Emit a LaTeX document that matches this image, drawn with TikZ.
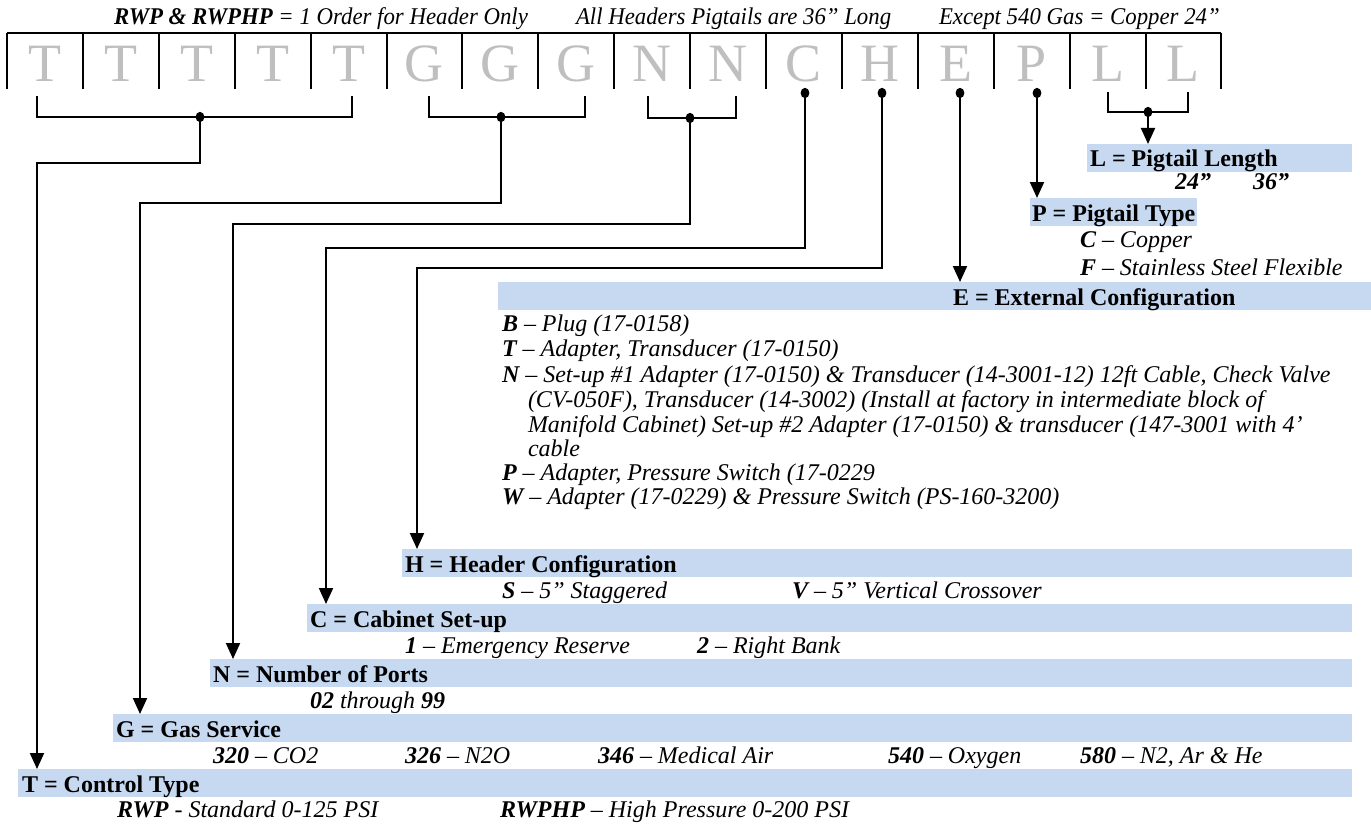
\documentclass[tikz,border=0pt]{standalone}
\usepackage{fontspec}
\setmainfont{Liberation Serif}
\usetikzlibrary{arrows.meta}
\definecolor{barblue}{HTML}{C6D9F1}
\definecolor{letgray}{HTML}{BFBFBF}
\newcommand{\bitx}[1]{\textbf{#1}}
\newcommand{\hdrsq}[1]{\scalebox{0.95}[1]{#1}}
\begin{document}
\begin{tikzpicture}[x=0.5pt,y=-0.5pt,
  every node/.style={inner sep=0pt, outer sep=0pt},
  wire/.style={line width=1pt},
  arr/.style={wire, -{Triangle[length=8pt,width=7pt]}},
  bartext/.style={anchor=base west, font=\fontsize{12pt}{14pt}\selectfont\bfseries},
  item/.style={anchor=base west, font=\fontsize{12pt}{14pt}\selectfont\itshape},
  letter/.style={anchor=base, text=letgray, font=\fontsize{27pt}{30pt}\selectfont},
  barfill/.style={fill=barblue}
]
\useasboundingbox (0,0) rectangle (1371,824);

% header line
\node[item] (hdr1) at (114,25) {\hdrsq{\bitx{RWP \& RWPHP} = 1 Order for Header Only}};
\node[item] (hdr2) at (576,25) {\hdrsq{All Headers Pigtails are 36” Long}};
\node[item] (hdr3) at (939,25) {\hdrsq{Except 540 Gas = Copper 24”}};

% code boxes
\draw[wire] (7,33) -- (1221,33);
\foreach \i in {0,...,16} \draw[wire] ({7+75.9*\i},33) -- ({7+75.9*\i},89);
\foreach \l [count=\i from 0] in {T,T,T,T,T,G,G,G,N,N,C,H,E,P,L,L}
  \node[letter] (let\i) at ({7+75.9*(\i+0.5)},82) {\l};

% brackets
\draw[wire] (37,96) |- (352,117) -- (352,96);
\draw[wire] (429,96) |- (585,117) -- (585,96);
\draw[wire] (648,96) |- (736,118) -- (736,96);
\draw[wire] (1108,92) |- (1188,112) -- (1188,92);

% dots
\coordinate (Tdot) at (200,117);
\coordinate (Gdot) at (501,117);
\coordinate (Ndot) at (690,118);
\coordinate (Cdot) at (805,93);
\coordinate (Hdot) at (882,93);
\coordinate (Edot) at (960,93);
\coordinate (Pdot) at (1037,93);
\coordinate (Ldot) at (1148,112);
\foreach \d in {Tdot,Gdot,Ndot,Cdot,Hdot,Edot,Pdot,Ldot}
  \fill (\d) ellipse [x radius=2.2pt, y radius=2.6pt];

% bars
\fill[barfill] (1087,144) rectangle (1352,172);
\fill[barfill] (1030,198) rectangle (1197,226);
\fill[barfill] (498,282) rectangle (1371,310);
\fill[barfill] (402,549) rectangle (1352,577);
\fill[barfill] (307,604) rectangle (1352,632);
\fill[barfill] (210,659) rectangle (1352,687);
\fill[barfill] (113,714) rectangle (1352,742);
\fill[barfill] (18,769) rectangle (1352,797);

% arrow ends
\coordinate (Tend) at (37,769);
\coordinate (Gend) at (140,714);
\coordinate (Nend) at (233,659);
\coordinate (Cend) at (326,604);
\coordinate (Hend) at (417,549);
\coordinate (Eend) at (960,282);
\coordinate (Pend) at (1037,198);
\coordinate (Lend) at (1148,144);

% connectors
\draw[arr] (Tdot) -- ++(0,46) -| (Tend);
\draw[arr] (Gdot) -- ++(0,86) -| (Gend);
\draw[arr] (Ndot) -- ++(0,106) -| (Nend);
\draw[arr] (Cdot) -- ++(0,155) -| (Cend);
\draw[arr] (Hdot) -- ++(0,175) -| (Hend);
\draw[arr] (Edot) -- (Eend);
\draw[arr] (Pdot) -- (Pend);
\draw[arr] (Ldot) -- (Lend);

% L
\node[bartext] (Ltitle) at (1090,167) {L = Pigtail Length};
\node[item] (L1) at (1175,190) {\bitx{24”}};
\node[item] (L2) at (1253,190) {\bitx{36”}};
% P
\node[bartext] (Ptitle) at (1032,221) {P = Pigtail Type};
\node[item] (P1) at (1080,247) {\bitx{C} – Copper};
\node[item] (P2) at (1080,275) {\bitx{F} – Stainless Steel Flexible};
% E
\node[bartext] (Etitle) at (953,305) {E = External Configuration};
\node[item] (E1) at (502,331) {\bitx{B} – Plug (17-0158)};
\node[item] (E2) at (502,356) {\bitx{T} – Adapter, Transducer (17-0150)};
\node[item] (E3) at (502,382) {\bitx{N} – Set-up \#1 Adapter (17-0150) \& Transducer (14-3001-12) 12ft Cable, Check Valve};
\node[item] (E4) at (528,407) {(CV-050F), Transducer (14-3002) (Install at factory in intermediate block of};
\node[item] (E5) at (528,432) {Manifold Cabinet) Set-up \#2 Adapter (17-0150) \& transducer (147-3001 with 4’};
\node[item] (E6) at (528,456) {cable};
\node[item] (E7) at (502,480) {\bitx{P} – Adapter, Pressure Switch (17-0229};
\node[item] (E8) at (502,504) {\bitx{W} – Adapter (17-0229) \& Pressure Switch (PS-160-3200)};
% H
\node[bartext] (Htitle) at (405,572) {H = Header Configuration};
\node[item] (H1) at (502,598) {\bitx{S} – 5” Staggered};
\node[item] (H2) at (792,598) {\bitx{V} – 5” Vertical Crossover};
% C
\node[bartext] (Ctitle) at (310,627) {C = Cabinet Set-up};
\node[item] (C1) at (405,653) {\bitx{1} – Emergency Reserve};
\node[item] (C2) at (697,653) {\bitx{2} – Right Bank};
% N
\node[bartext] (Ntitle) at (213,682) {N = Number of Ports};
\node[item] (N1) at (310,708) {\bitx{02} through \bitx{99}};
% G
\node[bartext] (Gtitle) at (116,737) {G = Gas Service};
\node[item] (G1) at (213,763) {\bitx{320} – CO2};
\node[item] (G2) at (405,763) {\bitx{326} – N2O};
\node[item] (G3) at (598,763) {\bitx{346} – Medical Air};
\node[item] (G4) at (888,763) {\bitx{540} – Oxygen};
\node[item] (G5) at (1080,763) {\bitx{580} – N2, Ar \& He};
% T
\node[bartext] (Ttitle) at (22,792) {T = Control Type};
\node[item] (T1) at (117,817) {\bitx{RWP} - Standard 0-125 PSI};
\node[item] (T2) at (500,817) {\bitx{RWPHP} – High Pressure 0-200 PSI};
\end{tikzpicture}
\end{document}
